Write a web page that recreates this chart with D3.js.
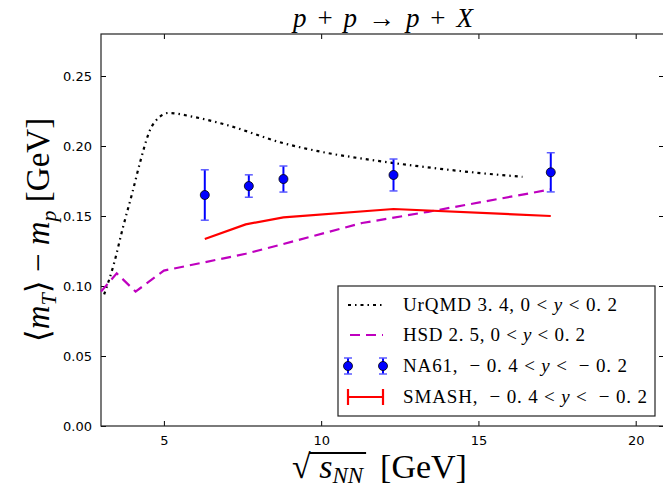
<!DOCTYPE html>
<html>
<head>
<meta charset="utf-8">
<script src="https://cdn.jsdelivr.net/npm/d3@7"></script>
<style>
  body { margin: 0; background: #fff; }
  svg { display: block; }
  .math { font-family: "Liberation Serif", "DejaVu Serif", serif; }
</style>
</head>
<body>
<div id="plot"></div>
<script>
// UrQMD 3.4, 0 < y < 0.2
const urqmdX = [3.1, 3.4, 3.7, 4.0, 4.25, 4.55, 4.85, 5.15, 5.9, 7.0, 8.8, 10.2, 11.3, 13.3, 14.9, 16.4];
const urqmdY = [0.094, 0.115, 0.142, 0.167, 0.189, 0.211, 0.2205, 0.2236, 0.221, 0.215, 0.202, 0.195, 0.191, 0.185, 0.181, 0.178];

// HSD 2.5, 0 < y < 0.2
const hsdX = [3.0, 3.5, 4.1, 5.0, 6.3, 7.6, 8.8, 11.3, 13.4, 17.3];
const hsdY = [0.096, 0.109, 0.096, 0.111, 0.117, 0.123, 0.130, 0.145, 0.153, 0.169];

// SMASH, -0.4 < y < -0.2
const smashX = [6.3, 7.6, 8.8, 12.3, 17.3];
const smashY = [0.1336, 0.144, 0.149, 0.155, 0.150];

// NA61 data, -0.4 < y < -0.2
const na61X = [6.3, 7.7, 8.8, 12.3, 17.3];
const na61Y = [0.165, 0.1714, 0.1764, 0.1793, 0.1812];
const na61Err = [0.018, 0.008, 0.0093, 0.0114, 0.014];

const xTicks = [5, 10, 15, 20];
const yTicks = [0.00, 0.05, 0.10, 0.15, 0.20, 0.25];

const W = 663, H = 489;
const margin = { top: 34, right: -1, bottom: 63, left: 101 };

const svg = d3.select('#plot').append('svg')
  .attr('width', W)
  .attr('height', H);

const x = d3.scaleLinear().domain([3, 20.9]).range([margin.left, W - margin.right]);
const y = d3.scaleLinear().domain([0, 0.28]).range([H - margin.bottom, margin.top]);

const zip = (xs, ys) => xs.map((v, i) => [v, ys[i]]);

// axes with inward ticks on all four sides
const tickLen = 5;
svg.append('g')
  .attr('transform', `translate(0,${y(0)})`)
  .call(d3.axisBottom(x).tickValues(xTicks).tickSizeInner(-tickLen).tickSizeOuter(0).tickPadding(10))
  .call(g => g.select('.domain').remove())
  .selectAll('text').style('font-family', 'DejaVu Sans').style('font-size', '13px').attr('fill', '#000');

svg.append('g')
  .attr('transform', `translate(0,${y(0.28)})`)
  .call(d3.axisTop(x).tickValues(xTicks).tickSizeInner(-tickLen).tickSizeOuter(0).tickFormat(''))
  .call(g => g.select('.domain').remove());

svg.append('g')
  .attr('transform', `translate(${x(3)},0)`)
  .call(d3.axisLeft(y).tickValues(yTicks).tickSizeInner(-tickLen).tickSizeOuter(0).tickPadding(9).tickFormat(d3.format('.2f')))
  .call(g => g.select('.domain').remove())
  .selectAll('text').style('font-family', 'DejaVu Sans').style('font-size', '13px').attr('fill', '#000');

svg.append('g')
  .attr('transform', `translate(${x(20.9)},0)`)
  .call(d3.axisRight(y).tickValues(yTicks).tickSizeInner(-tickLen).tickSizeOuter(0).tickFormat(''))
  .call(g => g.select('.domain').remove());

svg.selectAll('.tick line').attr('stroke', '#000');

// frame
svg.append('rect')
  .attr('x', x(3)).attr('y', y(0.28))
  .attr('width', x(20.9) - x(3)).attr('height', y(0) - y(0.28))
  .attr('fill', 'none').attr('stroke', '#222').attr('stroke-width', 1.2);

const plot = svg.append('g');

// model curves
plot.append('path')
  .datum(zip(urqmdX, urqmdY))
  .attr('d', d3.line().x(d => x(d[0])).y(d => y(d[1])).curve(d3.curveMonotoneX))
  .attr('fill', 'none').attr('stroke', '#000').attr('stroke-width', 2.2)
  .attr('stroke-dasharray', '3,4,1.5,4');

plot.append('path')
  .datum(zip(hsdX, hsdY))
  .attr('d', d3.line().x(d => x(d[0])).y(d => y(d[1])))
  .attr('fill', 'none').attr('stroke', '#bf00bf').attr('stroke-width', 2.2)
  .attr('stroke-dasharray', '10,6');

plot.append('path')
  .datum(zip(smashX, smashY))
  .attr('d', d3.line().x(d => x(d[0])).y(d => y(d[1])))
  .attr('fill', 'none').attr('stroke', '#ff0000').attr('stroke-width', 2.2);

// NA61 points with error bars
const drawNa61 = (g, cx, cy, top, bot) => {
  g.append('line').attr('x1', cx).attr('x2', cx).attr('y1', top).attr('y2', bot)
    .attr('stroke', '#0000ff').attr('stroke-width', 2);
  [top, bot].forEach(cyy => {
    g.append('line').attr('x1', cx - 4).attr('x2', cx + 4).attr('y1', cyy).attr('y2', cyy)
      .attr('stroke', '#5a5aff').attr('stroke-width', 1.5);
  });
  g.append('circle').attr('cx', cx).attr('cy', cy).attr('r', 4.5)
    .attr('fill', '#0000ff').attr('stroke', '#000').attr('stroke-width', 0.8);
};

na61X.forEach((v, i) => {
  drawNa61(plot, x(v), y(na61Y[i]), y(na61Y[i] + na61Err[i]), y(na61Y[i] - na61Err[i]));
});

// title
const title = svg.append('text').attr('class', 'math')
  .attr('x', 293).attr('y', 27)
  .attr('textLength', 180).attr('lengthAdjust', 'spacing')
  .style('font-size', '27px');
title.append('tspan').style('font-style', 'italic').text('p');
title.append('tspan').text('+');
title.append('tspan').style('font-style', 'italic').text('p');
title.append('tspan').text('→');
title.append('tspan').style('font-style', 'italic').text('p');
title.append('tspan').text('+');
title.append('tspan').style('font-style', 'italic').text('X');

// y label
const yl = svg.append('text').attr('class', 'math')
  .attr('transform', 'translate(49,230) rotate(-90)')
  .attr('text-anchor', 'middle')
  .style('font-size', '33px');
yl.append('tspan').text('⟨');
yl.append('tspan').style('font-style', 'italic').text('m');
yl.append('tspan').attr('dy', 7).style('font-size', '22px').style('font-style', 'italic').text('T');
yl.append('tspan').attr('dy', -7).text('⟩ − ');
yl.append('tspan').style('font-style', 'italic').text('m');
yl.append('tspan').attr('dy', 7).style('font-size', '22px').style('font-style', 'italic').text('p');
yl.append('tspan').attr('dy', -7).text(' [GeV]');

// x label with a drawn radical bar
const xl = svg.append('text').attr('class', 'math')
  .attr('x', 292).attr('y', 478)
  .attr('xml:space', 'preserve')
  .style('font-size', '34px');
xl.append('tspan').text('√');
xl.append('tspan').style('font-style', 'italic').text(' s');
xl.append('tspan').attr('dy', 5).style('font-size', '23px').style('font-style', 'italic').text('NN');
xl.append('tspan').attr('dy', -5).text('  [GeV]');
const node = xl.node();
const startX = node.getEndPositionOfChar(0).x;
const endX = node.getEndPositionOfChar(4).x;
svg.append('line')
  .attr('x1', startX - 1.5).attr('x2', endX + 3)
  .attr('y1', 453).attr('y2', 453)
  .attr('stroke', '#000').attr('stroke-width', 1.8);

// legend
const lg = svg.append('g');
lg.append('rect')
  .attr('x', 338).attr('y', 286).attr('width', 317).attr('height', 130)
  .attr('fill', '#fff').attr('stroke', '#222').attr('stroke-width', 1.2);

const rowY = [305, 335, 366, 397];
const hx1 = 348, hx2 = 383;

lg.append('line').attr('x1', hx1).attr('x2', hx2).attr('y1', rowY[0]).attr('y2', rowY[0])
  .attr('stroke', '#000').attr('stroke-width', 2.2).attr('stroke-dasharray', '3,4,1.5,4');
lg.append('line').attr('x1', hx1).attr('x2', hx2).attr('y1', rowY[1]).attr('y2', rowY[1])
  .attr('stroke', '#bf00bf').attr('stroke-width', 2.2).attr('stroke-dasharray', '10,6')
  .attr('stroke-dashoffset', -2);
[hx1, hx2].forEach(cx => drawNa61(lg, cx, rowY[2], rowY[2] - 8, rowY[2] + 8));
lg.append('line').attr('x1', hx1).attr('x2', hx2).attr('y1', rowY[3]).attr('y2', rowY[3])
  .attr('stroke', '#ff0000').attr('stroke-width', 2.2);
[hx1, hx2].forEach(cx => {
  lg.append('line').attr('x1', cx).attr('x2', cx).attr('y1', rowY[3] - 8).attr('y2', rowY[3] + 8)
    .attr('stroke', '#ff0000').attr('stroke-width', 2.2);
});

const legendRows = [
  [['UrQMD', ''], [' 3. 4, 0 < ', ''], ['y', 'i'], [' < 0. 2', '']],
  [['HSD', ''], [' 2. 5, 0 < ', ''], ['y', 'i'], [' < 0. 2', '']],
  [['NA61,  − 0. 4 < ', ''], ['y', 'i'], [' <  − 0. 2', '']],
  [['SMASH,  − 0. 4 < ', ''], ['y', 'i'], [' <  − 0. 2', '']]
];
const legendWidths = [214, 182, 224, 244];
legendRows.forEach((parts, i) => {
  const t = lg.append('text').attr('class', 'math')
    .attr('x', 403).attr('y', rowY[i] + 6)
    .attr('textLength', legendWidths[i]).attr('lengthAdjust', 'spacing')
    .style('font-size', '19px').attr('xml:space', 'preserve');
  parts.forEach(p => {
    t.append('tspan').style('font-style', p[1] === 'i' ? 'italic' : 'normal').text(p[0]);
  });
});
</script>
</body>
</html>
